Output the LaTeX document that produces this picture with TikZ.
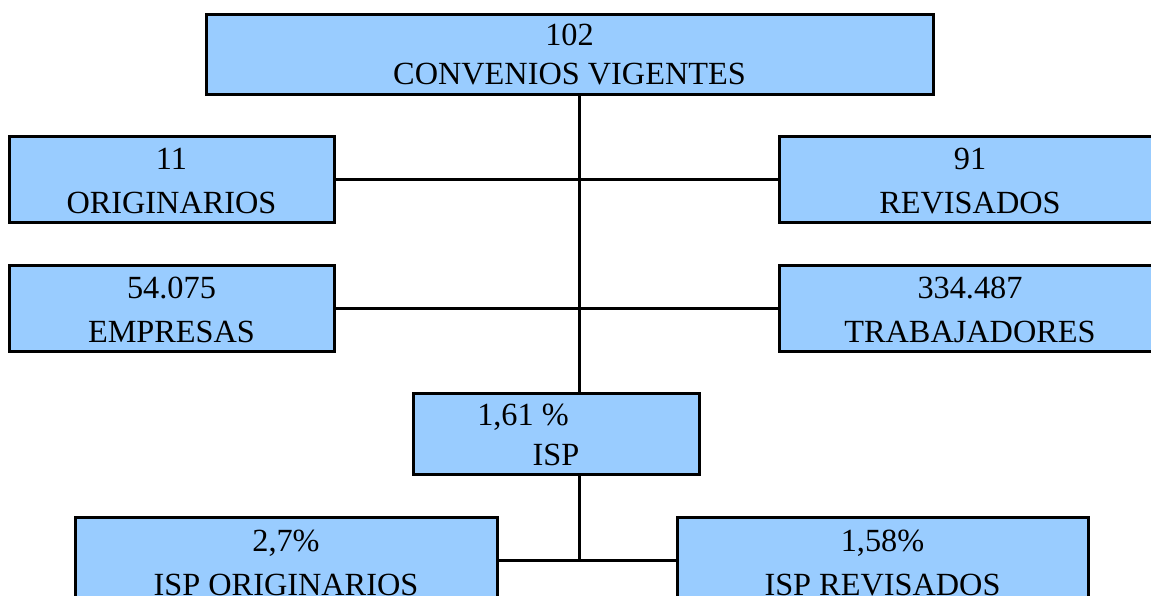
\documentclass[tikz,border=0pt]{standalone}
\usepackage{fontspec}
\setmainfont{Liberation Serif}
\definecolor{boxblue}{HTML}{99CCFF}
\begin{document}
\begin{tikzpicture}[x=1pt,y=-1pt,
  box/.style={draw=black, fill=boxblue, line width=3pt, rectangle, inner sep=0pt},
  lbl/.style={anchor=base, inner sep=0pt, font=\fontsize{32.3}{38}\selectfont},
  conn/.style={draw=black, line width=3pt}]
\useasboundingbox (0,0) rectangle (1151,596);
\clip (0,0) rectangle (1151,596);
\fill[white] (0,0) rectangle (1151,596);
\coordinate (tx) at (579,0);
% boxes
\node[box, minimum width=727pt, minimum height=80pt] (top) at (569.5,55) {};
\node[box, minimum width=325pt, minimum height=86pt] (orig) at (171.5,180) {};
\node[box, minimum width=382pt, minimum height=86pt] (rev) at (970,180) {};
\node[box, minimum width=325pt, minimum height=86pt] (emp) at (171.5,308.5) {};
\node[box, minimum width=382pt, minimum height=86pt] (trab) at (970,308.5) {};
\node[box, minimum width=286pt, minimum height=81pt] (isp) at (556,433.5) {};
\node[box, minimum width=422pt, minimum height=86pt] (ispo) at (286,560) {};
\node[box, minimum width=411pt, minimum height=86pt] (ispr) at (882.5,560) {};
% connectors
\draw[conn] (tx |- top.south) -- (tx |- isp.north);
\draw[conn] (orig.east) -- (rev.west);
\draw[conn] (emp.east) -- (trab.west);
\draw[conn] (tx |- isp.south) -- (tx |- ispo.east);
\draw[conn] (ispo.east) -- (ispr.west);
% texts
\node[lbl] (t1) at (569.5,46) {102};
\node[lbl] (t2) at (569.5,85) {CONVENIOS VIGENTES};
\node[lbl] (t3) at (171.5,170) {11};
\node[lbl] (t4) at (171.5,214) {ORIGINARIOS};
\node[lbl] (t5) at (970,170) {91};
\node[lbl] (t6) at (970,214) {REVISADOS};
\node[lbl] (t7) at (171.5,298) {54.075};
\node[lbl] (t8) at (171.5,342) {EMPRESAS};
\node[lbl] (t9) at (970,298) {334.487};
\node[lbl] (t10) at (970,342) {TRABAJADORES};
\node[lbl] (t11) at (523,425) {1,61 \%};
\node[lbl] (t12) at (556,465) {ISP};
\node[lbl] (t13) at (286,551) {2,7\%};
\node[lbl] (t14) at (286,595) {ISP ORIGINARIOS};
\node[lbl] (t15) at (882.5,551) {1,58\%};
\node[lbl] (t16) at (882.5,595) {ISP REVISADOS};
\end{tikzpicture}
\end{document}
